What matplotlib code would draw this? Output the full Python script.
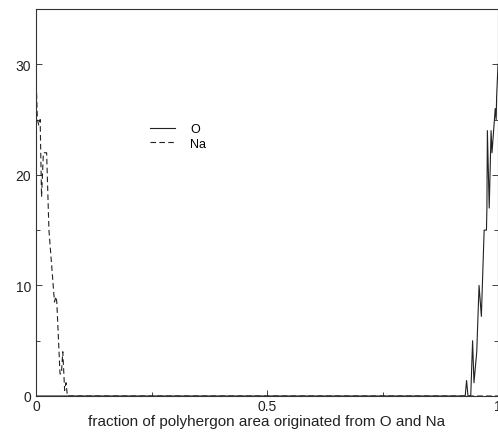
import numpy as np
import matplotlib
matplotlib.use('Agg')
import matplotlib.pyplot as plt
from matplotlib.ticker import MultipleLocator

plt.rcParams['font.family'] = ['Liberation Sans', 'DejaVu Sans']

# Na: доля площади, близкая к 0
na_x = [0, 0.003, 0.006, 0.009, 0.012, 0.016, 0.023, 0.028, 0.040, 0.043,
        0.045, 0.052, 0.055, 0.058, 0.062, 0.065, 0.068, 0.072, 1.0]
na_y = [29, 25, 24.5, 25, 18, 22, 22, 15, 8.5, 9,
        8.5, 2, 2, 4, 0.5, 1.2, 0, 0, 0]

# O: доля площади, близкая к 1
o_x = [0, 0.929, 0.932, 0.935, 0.941, 0.945, 0.948, 0.954, 0.959, 0.964,
       0.970, 0.975, 0.976, 0.977, 0.981, 0.985, 0.987, 0.994, 0.996, 0.997, 1.0]
o_y = [0, 0, 1.4, 0, 0, 5, 1.2, 4, 10, 7.2,
       15, 15, 17, 24, 17, 24, 22, 26, 25, 27, 30]

fig = plt.figure(figsize=(4.98, 4.39), dpi=100)
ax = fig.add_axes([36 / 498, 1 - 397 / 439, 1 - 36 / 498, (397 - 10) / 439])

ax.plot(o_x, o_y, color='#222222', lw=0.8, ls='-', label='O')
ax.plot(na_x, na_y, color='#222222', lw=0.8, ls=(0, (5, 3)), label='Na')

ax.set_xlim(0, 1)
ax.set_ylim(0, 35)
ax.set_xticks([0, 0.5, 1])
ax.set_xticklabels(['0', '0.5', '1'])
ax.set_yticks([0, 10, 20, 30])
ax.xaxis.set_minor_locator(MultipleLocator(0.25))
ax.yaxis.set_minor_locator(MultipleLocator(5))
ax.tick_params(which='both', direction='in', right=True, top=False,
               labelsize=10, colors='#222222', width=0.6)
ax.tick_params(which='major', length=4)
ax.tick_params(which='minor', length=3)
ax.tick_params(axis='x', pad=2)
for s in ax.spines.values():
    s.set_linewidth(0.8)
    s.set_color('#333333')

ax.set_xlabel('fraction of polyhergon area originated from O and Na',
              fontsize=11, labelpad=1, color='#222222')

ax.legend(loc='upper left', bbox_to_anchor=(0.247, 0.705), frameon=False,
          fontsize=9, handlelength=2.0, handletextpad=1.2, labelspacing=0.2,
          borderpad=0, borderaxespad=0)

fig.savefig('out.png', dpi=100)
